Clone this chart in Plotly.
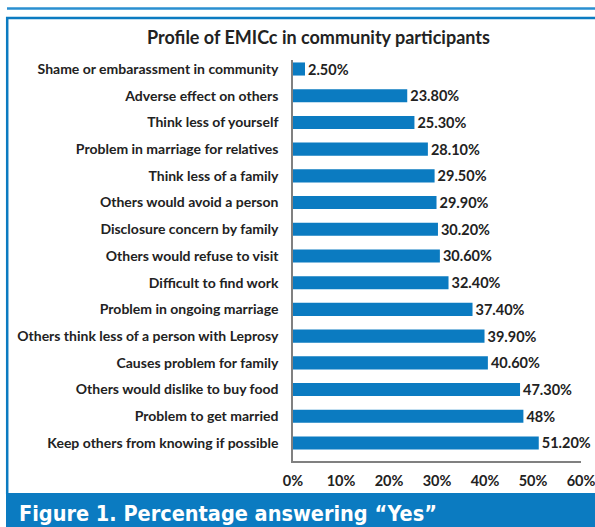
import plotly.graph_objects as go

categories = [
    "Shame or embarassment in community",
    "Adverse effect on others",
    "Think less of yourself",
    "Problem in marriage for relatives",
    "Think less of a family",
    "Others would avoid a person",
    "Disclosure concern by family",
    "Others would refuse to visit",
    "Difficult to find work",
    "Problem in ongoing marriage",
    "Others think less of a person with Leprosy",
    "Causes problem for family",
    "Others would dislike to buy food",
    "Problem to get married",
    "Keep others from knowing if possible",
]
values = [2.5, 23.8, 25.3, 28.1, 29.5, 29.9, 30.2, 30.6, 32.4, 37.4, 39.9, 40.6, 47.3, 48.0, 51.2]
value_labels = ["2.50%", "23.80%", "25.30%", "28.10%", "29.50%", "29.90%", "30.20%", "30.60%",
                "32.40%", "37.40%", "39.90%", "40.60%", "47.30%", "48%", "51.20%"]
x_ticks = [0, 10, 20, 30, 40, 50, 60]
x_tick_labels = ["0%", "10%", "20%", "30%", "40%", "50%", "60%"]
title_text = "Profile of EMICc in community participants"
caption_text = "Figure 1. Percentage answering \u201cYes\u201d"

W, H = 595, 527
L, R, T, B = 293, 581, 60, 461
BLUE = "#0b7bc1"
FONT = "Lato"
TXT = "#222222"

def px(x):
    return (x - L) / (R - L)

def py(y):
    return (B - y) / (B - T)

# bottom-to-top order
cats_bt = categories[::-1]
vals_bt = values[::-1]
labs_bt = value_labels[::-1]

fig = go.Figure(go.Bar(
    y=cats_bt, x=vals_bt, orientation="h",
    marker=dict(color=BLUE, line=dict(width=0)),
    width=0.49,
    text=labs_bt, textposition="outside", constraintext="none",
    textfont=dict(family=FONT, size=14.5, color=TXT, weight="bold"),
    cliponaxis=False,
    hoverinfo="skip",
))

fig.update_layout(
    width=W, height=H,
    margin=dict(l=L, r=W - R, t=T, b=H - B, autoexpand=False),
    paper_bgcolor="white", plot_bgcolor="white",
    showlegend=False,
    xaxis=dict(range=[0, 60], tickvals=x_ticks, ticktext=x_tick_labels, automargin=False,
               showgrid=False, zeroline=False, showline=True, linecolor="#808080", linewidth=1.5,
               ticks="", ticklabelstandoff=6, ticklabeloverflow="allow",
               tickfont=dict(family=FONT, size=14.5, color=TXT, weight="bold")),
    yaxis=dict(type="category", categoryorder="array", categoryarray=cats_bt, automargin=False,
               range=[-0.675, 14.337],
               showgrid=False, zeroline=False, showline=True, linecolor="#808080", linewidth=1.5,
               ticks="", ticklabelstandoff=10,
               tickfont=dict(family=FONT, size=14, color=TXT, weight="bold")),
    shapes=[
        dict(type="line", xref="paper", yref="paper", x0=px(7), x1=px(600), y0=py(8.5), y1=py(8.5),
             line=dict(color="#2a8fd0", width=2.5)),
        dict(type="line", xref="paper", yref="paper", x0=px(6), x1=px(600), y0=py(18), y1=py(18),
             line=dict(color=BLUE, width=2.5)),
        dict(type="line", xref="paper", yref="paper", x0=px(7.2), x1=px(7.2), y0=py(17), y1=py(494),
             line=dict(color=BLUE, width=2.5)),
        dict(type="rect", xref="paper", yref="paper", x0=px(6), x1=px(600), y0=py(493), y1=py(530),
             fillcolor=BLUE, line=dict(width=0), layer="above"),
    ],
    annotations=[
        dict(text=title_text, xref="paper", yref="paper", x=px(318), y=py(37),
             xanchor="center", yanchor="middle", showarrow=False,
             font=dict(family=FONT, size=18, color=TXT, weight="bold")),
        dict(text=caption_text, xref="paper", yref="paper", x=px(17), y=py(513),
             xanchor="left", yanchor="middle", showarrow=False,
             font=dict(family="DejaVu Sans Condensed", size=21.5, color="white", weight="bold")),
    ],
)

fig.write_html("out.html")
